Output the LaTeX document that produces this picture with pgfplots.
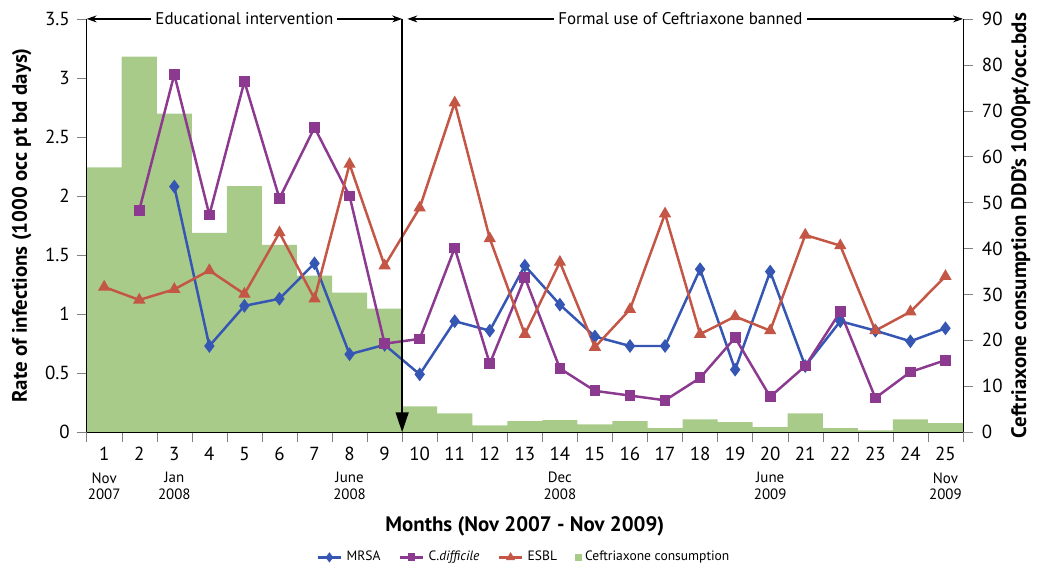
\documentclass[border=0pt]{standalone}
\usepackage{pgfplots}
\pgfplotsset{compat=1.18}
\usepackage{fontspec}
\setmainfont{PT Sans}
\usetikzlibrary{arrows.meta}
\definecolor{cgreen}{HTML}{A9CB8A}
\definecolor{cblue}{HTML}{3556B2}
\definecolor{cpurple}{HTML}{8C3A90}
\definecolor{cred}{HTML}{C45646}
\tikzset{month/.style={anchor=north, align=center, inner sep=0pt, font=\fontsize{7.5}{8.2}\selectfont, yshift=-20pt}}
\begin{document}
\begin{tikzpicture}
% ---------- right axis: Ceftriaxone consumption bars ----------
\begin{axis}[
  name=bars,
  scale only axis, width=440pt, height=207.5pt,
  xmin=0.5, xmax=25.5, ymin=0, ymax=90,
  axis x line=none,
  axis y line*=right,
  ytick={0,10,...,90},
  tick align=outside,
  major tick length=5pt,
  /pgf/number format/assume math mode=true,
  tick label style={font=\fontsize{9.5}{10}\selectfont},
  yticklabel style={xshift=1pt},
  ylabel={Ceftriaxone consumption DDD's 1000pt/occ.bds},
  ylabel style={font=\fontsize{10.5}{12}\bfseries\selectfont, at={(axis description cs:1.066,0.5)}, anchor=center},
  clip=false,
]
\addplot[ybar, bar width=1, fill=cgreen, draw=none] coordinates {
  (1,57.7)(2,81.8)(3,69.4)(4,43.4)(5,53.6)(6,40.8)(7,34.1)(8,30.4)(9,26.9)
  (10,5.6)(11,4.1)(12,1.5)(13,2.4)(14,2.6)(15,1.7)(16,2.4)(17,0.9)(18,2.8)
  (19,2.2)(20,1.1)(21,4.1)(22,0.9)(23,0.4)(24,2.8)(25,2.0)};
\end{axis}
% ---------- left axis: infection rates ----------
\begin{axis}[
  scale only axis, width=440pt, height=207.5pt,
  xmin=0.5, xmax=25.5, ymin=0, ymax=3.5,
  axis x line*=bottom,
  axis y line*=left,
  xtick={0.5,1.5,...,25.5},
  xticklabels={},
  extra x ticks={1,2,...,25},
  extra x tick style={tick style={draw=none}, xticklabel style={yshift=1pt}},
  ytick={0,0.5,...,3.5},
  tick align=outside,
  major tick length=5pt,
  /pgf/number format/assume math mode=true,
  tick label style={font=\fontsize{9.5}{10}\selectfont},
  ylabel={Rate of infections (1000 occ pt bd days)},
  ylabel style={font=\fontsize{10.5}{12}\bfseries\selectfont, at={(axis description cs:-0.074,0.5)}, anchor=center},
  xlabel={Months (Nov 2007 - Nov 2009)},
  xlabel style={font=\fontsize{10.5}{12}\bfseries\selectfont, at={(axis description cs:0.5,-0.228)}, anchor=center},
  legend style={at={(axis description cs:0.5,-0.303)}, anchor=center, draw=none, fill=none,
    legend columns=-1, font=\fontsize{6.8}{8}\selectfont,
    /tikz/every even column/.append style={column sep=7pt},
    legend cell align=left, inner sep=0pt},
  legend image post style={scale=0.7},
  clip=false,
]
\path (rel axis cs:-0.0989,1.0458) rectangle (rel axis cs:1.0795,-0.318);
\addplot[cblue, line width=1.25pt, mark=diamond*, mark size=3pt, mark options={fill=cblue, line width=0.6pt}] coordinates {
  (3,2.08)(4,0.73)(5,1.07)(6,1.13)(7,1.43)(8,0.66)(9,0.74)(10,0.49)(11,0.94)(12,0.86)
  (13,1.41)(14,1.08)(15,0.81)(16,0.73)(17,0.73)(18,1.38)(19,0.53)(20,1.36)(21,0.56)
  (22,0.94)(23,0.86)(24,0.77)(25,0.88)};
\addlegendentry{MRSA}
\addplot[cpurple, line width=1.25pt, mark=square*, mark size=2.4pt, mark options={fill=cpurple, line width=0.6pt}] coordinates {
  (2,1.88)(3,3.03)(4,1.84)(5,2.97)(6,1.98)(7,2.58)(8,2.00)(9,0.75)(10,0.79)(11,1.56)
  (12,0.58)(13,1.31)(14,0.54)(15,0.35)(16,0.31)(17,0.27)(18,0.46)(19,0.80)(20,0.30)
  (21,0.56)(22,1.02)(23,0.29)(24,0.51)(25,0.61)};
\addlegendentry{C.\textit{difficile}}
\addplot[cred, line width=1.25pt, mark=triangle*, mark size=3pt, mark options={fill=cred, line width=0.6pt}] coordinates {
  (1,1.23)(2,1.12)(3,1.21)(4,1.37)(5,1.17)(6,1.69)(7,1.13)(8,2.27)(9,1.41)(10,1.90)
  (11,2.79)(12,1.64)(13,0.83)(14,1.44)(15,0.72)(16,1.04)(17,1.85)(18,0.83)(19,0.98)
  (20,0.86)(21,1.67)(22,1.58)(23,0.86)(24,1.02)(25,1.32)};
\addlegendentry{ESBL}
\addlegendimage{only marks, mark=square*, mark size=2.2pt, mark options={fill=cgreen, draw=cgreen}}
\addlegendentry{Ceftriaxone consumption}
% annotations
\draw[black, line width=0.6pt, {Stealth[length=5pt,width=3.5pt]}-{Stealth[length=5pt,width=3.5pt]}]
  (axis cs:0.5,3.5) -- (axis cs:9.5,3.5);
\draw[black, line width=0.6pt, {Stealth[length=5pt,width=3.5pt]}-{Stealth[length=5pt,width=3.5pt]}]
  (axis cs:9.65,3.5) -- (axis cs:25.5,3.5);
\node[fill=white, inner sep=2pt, font=\fontsize{8.5}{10}\selectfont] at (axis cs:5,3.5) {Educational intervention};
\node[fill=white, inner sep=2pt, font=\fontsize{8.5}{10}\selectfont] at (axis cs:17.44,3.5) {Formal use of Ceftriaxone banned};
\draw[black, line width=0.8pt, -{Triangle[length=10pt,width=6.5pt]}] (axis cs:9.5,3.5) -- (axis cs:9.5,0);
% month labels
\node[month] at (axis cs:1,0) {Nov\\2007};
\node[month] at (axis cs:3,0) {Jan\\2008};
\node[month] at (axis cs:8,0) {June\\2008};
\node[month] at (axis cs:14,0) {Dec\\2008};
\node[month] at (axis cs:20,0) {June\\2009};
\node[month] at (axis cs:25,0) {Nov\\2009};
\end{axis}
\end{tikzpicture}
\end{document}
